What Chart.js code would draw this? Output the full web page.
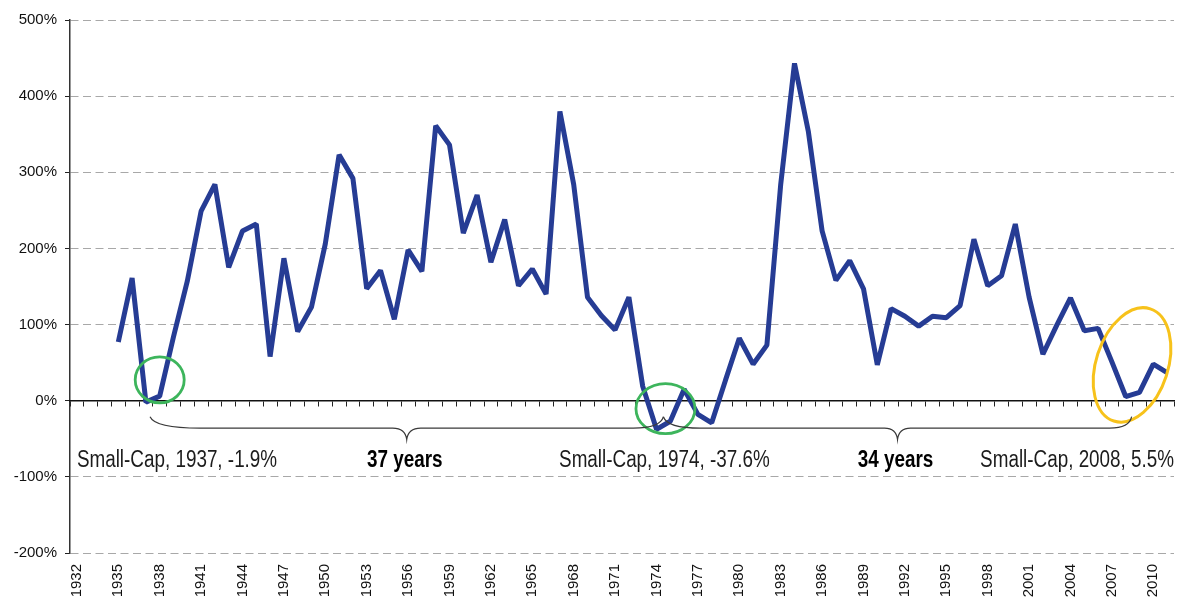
<!DOCTYPE html>
<html>
<head>
<meta charset="utf-8">
<script src="https://cdn.jsdelivr.net/npm/chart.js@4.4.1/dist/chart.umd.min.js"></script>
<style>
html,body{margin:0;padding:0;background:#ffffff;}
#wrap{width:1179px;height:601px;position:relative;}
</style>
</head>
<body>
<div id="wrap"><canvas id="c"></canvas></div>
<script>
// ---- data ----
const years = ['1932','1933','1934','1935','1936','1937','1938','1939','1940','1941',
  '1942','1943','1944','1945','1946','1947','1948','1949','1950','1951',
  '1952','1953','1954','1955','1956','1957','1958','1959','1960','1961',
  '1962','1963','1964','1965','1966','1967','1968','1969','1970','1971',
  '1972','1973','1974','1975','1976','1977','1978','1979','1980','1981',
  '1982','1983','1984','1985','1986','1987','1988','1989','1990','1991',
  '1992','1993','1994','1995','1996','1997','1998','1999','2000','2001',
  '2002','2003','2004','2005','2006','2007','2008','2009','2010','2011'];

const tickYears = ['1932','1935','1938','1941','1944','1947','1950','1953','1956','1959',
  '1962','1965','1968','1971','1974','1977','1980','1983','1986','1989',
  '1992','1995','1998','2001','2004','2007','2010'];

// percent values, 1932-2011 (no data before 1935)
const smallCapValues = [null,null,null,77,161,-1.9,6,84,157,249,
  284,175,223,232,58,187,91,123,206,323,
  292,147,171,107,198,170,361,336,220,270,
  182,238,151,173,140,380,284,136,112,93,
  136,19,-37.6,-27,15,-18,-29,27,82,48,
  73,284,443,354,223,158,184,147,47,121,
  111,98,111,109,125,212,151,164,232,136,
  61,99,135,92,95,51,5.5,11,48,37];

const yTicks = [-200,-100,0,100,200,300,400,500];

const lowLabels = ['Small-Cap, 1937, -1.9%','Small-Cap, 1974, -37.6%','Small-Cap, 2008, 5.5%'];
const spanLabels = ['37 years','34 years'];

// ---- annotation plugin ----
const annotPlugin = {
  id: 'annot',
  afterDatasetsDraw(chart) {
    const ctx = chart.ctx;
    const xs = chart.scales.x, ys = chart.scales.y;
    const X = yr => xs.getPixelForValue(yr - 1932);
    const Y = v => ys.getPixelForValue(v);

    // ellipses
    ctx.save();
    ctx.lineWidth = 2.8;
    ctx.strokeStyle = '#3db55c';
    ctx.beginPath();
    ctx.ellipse(X(1938), Y(27.4), 24.5, 23, 0, 0, Math.PI * 2);
    ctx.stroke();
    ctx.beginPath();
    ctx.ellipse(X(1974.65), Y(-10.4), 29.5, 25, 0, 0, Math.PI * 2);
    ctx.stroke();
    ctx.strokeStyle = '#f7c21b';
    ctx.lineWidth = 3;
    ctx.beginPath();
    ctx.ellipse(X(2008.46), Y(47), 36, 59, 18 * Math.PI / 180, 0, Math.PI * 2);
    ctx.stroke();
    ctx.restore();

    // braces
    const yEnd = Y(-21), yMid = Y(-36), yTip = Y(-51);
    function brace(x1, x2, r1, r2, rm) {
      const xm = (x1 + x2) / 2;
      ctx.moveTo(x1, yEnd);
      ctx.quadraticCurveTo(x1 + r1 * 0.1, yMid, x1 + r1, yMid);
      ctx.lineTo(xm - rm, yMid);
      ctx.quadraticCurveTo(xm - rm * 0.1, yMid, xm, yTip);
      ctx.quadraticCurveTo(xm + rm * 0.1, yMid, xm + rm, yMid);
      ctx.lineTo(x2 - r2, yMid);
      ctx.quadraticCurveTo(x2 - r2 * 0.1, yMid, x2, yEnd);
      return xm;
    }
    ctx.save();
    ctx.strokeStyle = '#3a3a3a';
    ctx.lineWidth = 1.2;
    ctx.beginPath();
    const m1 = brace(X(1937.3), X(1974.5), 50, 30, 14);
    const m2 = brace(X(1974.5), X(2008.43), 37, 22, 13);
    ctx.stroke();
    ctx.restore();

    // texts (narrow face emulated by horizontal scaling)
    const base = Y(-86.5);
    function narrow(txt, x, bold, align) {
      ctx.save();
      ctx.font = (bold ? 'bold ' : '') + '23px "Liberation Sans", Arial, sans-serif';
      ctx.textBaseline = 'alphabetic';
      ctx.textAlign = 'left';
      ctx.fillStyle = bold ? '#000000' : '#1c1c1c';
      const k = 0.82;
      const w = ctx.measureText(txt).width * k;
      const lx = align === 'center' ? x - w / 2 : x;
      ctx.translate(lx, base);
      ctx.scale(k, 1);
      ctx.fillText(txt, 0, 0);
      ctx.restore();
    }
    narrow(lowLabels[0], X(1932), false, 'left');
    narrow(lowLabels[1], X(1966.94), false, 'left');
    narrow(lowLabels[2], X(1997.45), false, 'left');
    narrow(spanLabels[0], m1 - 2, true, 'center');
    narrow(spanLabels[1], m2 - 2, true, 'center');
  }
};

const tickFont = { family: '"Liberation Sans", Arial, sans-serif', size: 15 };

new Chart(document.getElementById('c'), {
  type: 'line',
  data: {
    labels: years,
    datasets: [{
      label: 'Small-Cap',
      data: smallCapValues,
      borderColor: '#263c94',
      backgroundColor: '#263c94',
      borderWidth: 5,
      pointRadius: 0,
      pointHoverRadius: 0,
      tension: 0,
      fill: false,
      spanGaps: false,
      borderJoinStyle: 'bevel',
      borderCapStyle: 'butt',
      xAxisID: 'x',
      yAxisID: 'y'
    }]
  },
  options: {
    responsive: true,
    maintainAspectRatio: false,
    animation: false,
    devicePixelRatio: 1,
    layout: { padding: { left: 0, right: 5, top: 20, bottom: 0 } },
    plugins: { legend: { display: false }, tooltip: { enabled: false } },
    scales: {
      y: {
        type: 'linear',
        position: 'left',
        min: -200,
        max: 500,
        afterBuildTicks: s => { s.ticks = yTicks.map(v => ({ value: v })); },
        ticks: {
          callback: v => v + '%',
          font: tickFont,
          color: '#111111',
          padding: 8
        },
        grid: {
          color: c => (c.tick && c.tick.value === 0) ? 'rgba(0,0,0,0)' : '#a8a8a8',
          lineWidth: 1,
          drawTicks: true,
          tickLength: 5,
          tickColor: '#222222',
          tickWidth: 1
        },
        border: { display: true, color: '#333333', width: 1.5, dash: [8, 4.5] },
        afterFit: s => { s.width = 70; s.paddingTop = 0; s.paddingBottom = 0; }
      },
      x: {
        type: 'category',
        position: { y: 0 },
        offset: true,
        ticks: { display: false },
        grid: {
          display: true,
          offset: true,
          drawOnChartArea: false,
          drawTicks: true,
          tickLength: 5,
          tickColor: '#222222',
          tickWidth: 1
        },
        border: { display: true, color: '#111111', width: 1.5 },
        afterFit: s => { s.paddingLeft = 0; s.paddingRight = 0; }
      },
      x2: {
        type: 'category',
        position: 'bottom',
        offset: true,
        grid: { display: false },
        border: { display: false },
        ticks: {
          autoSkip: false,
          minRotation: 90,
          maxRotation: 90,
          padding: 3,
          font: tickFont,
          color: '#111111',
          callback: function (val, idx) {
            const lab = years[idx];
            return tickYears.includes(lab) ? lab : '';
          }
        },
        afterFit: s => { s.height = 48; s.paddingLeft = 0; s.paddingRight = 0; }
      }
    }
  },
  plugins: [annotPlugin]
});
</script>
</body>
</html>
